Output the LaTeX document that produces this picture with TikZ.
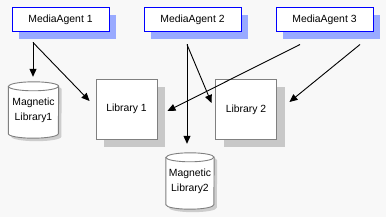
\documentclass[tikz,border=0pt]{standalone}
\usepackage{fontspec}
\setmainfont{Liberation Sans}
\usetikzlibrary{arrows.meta,shadows,calc,backgrounds}
\definecolor{bgc}{RGB}{248,248,248}
\definecolor{mashadow}{RGB}{153,170,255}
\definecolor{libshadow}{RGB}{200,200,200}
\definecolor{edgegray}{RGB}{128,128,128}
\definecolor{cylshadow}{RGB}{205,205,205}
\newcommand\drawcyl[2]{%
  \begin{pgfonlayer}{background}
  \fill[cylshadow] ($(#1.north west)+(3,-7.5)$) -- ($(#1.south west)+(3,1.5)$)
     arc[start angle=180,end angle=360,x radius=#2,y radius=4.5]
     -- ($(#1.north east)+(3,-7.5)$)
     arc[start angle=0,end angle=180,x radius=#2,y radius=4.5] -- cycle;
  \filldraw[fill=white,draw=edgegray,line width=0.9pt] ($(#1.north west)+(0,-4.5)$) -- ($(#1.south west)+(0,4.5)$)
     arc[start angle=180,end angle=360,x radius=#2,y radius=4.5]
     -- ($(#1.north east)+(0,-4.5)$)
     arc[start angle=0,end angle=180,x radius=#2,y radius=4.5] -- cycle;
  \draw[edgegray,line width=0.9pt] ($(#1.north west)+(0,-4.5)$)
     arc[start angle=180,end angle=360,x radius=#2,y radius=4.5];
  \end{pgfonlayer}}
\tikzset{
  agent/.style={draw=blue,fill=white,line width=1pt,minimum width=97pt,minimum height=24pt,inner sep=0pt,
    drop shadow={shadow xshift=7pt,shadow yshift=-7pt,fill=mashadow,opacity=1}},
  libbox/.style={draw=edgegray,fill=white,line width=0.9pt,minimum width=61pt,minimum height=60pt,inner sep=0pt,
    drop shadow={shadow xshift=8pt,shadow yshift=-8pt,fill=libshadow,opacity=1}},
  cylnode/.style={inner sep=0pt,align=center,font=\fontsize{10.4}{15}\selectfont},
  arr/.style={-{Triangle[length=8pt,width=7pt]},line width=0.9pt,black},
}
\begin{document}
\begin{tikzpicture}[x=1pt,y=1pt,font=\fontsize{10.4}{13}\selectfont]
\begin{pgfonlayer}{background}
\fill[bgc] (0,0) rectangle (386,217);
\end{pgfonlayer}
\useasboundingbox (0,0) rectangle (386,217);
\node[agent] (ma1) at (60.5,197) {MediaAgent 1};
\node[agent] (ma2) at (192.5,197) {MediaAgent 2};
\node[agent] (ma3) at (324.5,197) {MediaAgent 3};
\node[libbox] (lib1) at (126.5,108) {Library 1};
\node[libbox] (lib2) at (246,107.5) {Library 2};
\node[cylnode,minimum width=50pt,minimum height=56pt] (mag1) at (33.5,107) {Magnetic\\Library1};
\node[cylnode,minimum width=48pt,minimum height=56pt] (mag2) at (190,36) {Magnetic\\Library2};
\drawcyl{mag1}{25}
\drawcyl{mag2}{24}
\draw[arr] ($(ma1.south)+(-27.5,-10)$) -- ($(mag1.north)+(-0.5,5)$);
\draw[arr] ($(ma1.south)+(-27.5,-10)$) -- ($(lib1.west)+(-6,8)$);
\draw[arr] ($(ma2.south)+(-5.5,-12)$) -- ($(mag2.north)+(-3,9)$);
\draw[arr] ($(ma2.south)+(-5.5,-12)$) -- ($(lib2.west)+(-3.5,6.5)$);
\draw[arr] ($(ma3.south)+(-24.5,-12)$) -- ($(lib1.east)+(10,-2)$);
\draw[arr] ($(ma3.south)+(35.5,-12)$) -- ($(lib2.east)+(12.5,7.5)$);
\end{tikzpicture}
\end{document}
